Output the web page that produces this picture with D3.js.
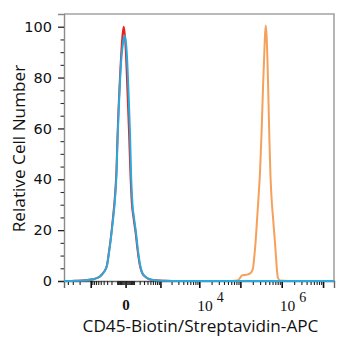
<!DOCTYPE html>
<html>
<head>
<meta charset="utf-8">
<script src="https://cdn.jsdelivr.net/npm/d3@7"></script>
<style>
  body { margin: 0; background: #fff; }
  svg { display: block; }
</style>
</head>
<body>
<svg id="chart" width="347" height="350"></svg>
<script>
// Unstained / isotype control (red)
const redIntensity = [-5000, -2480, -1350, -800, -530, -390, -305, -255, -210, -170, -135, -110, -95, -80, -60, -43, -30, -18, -8, 4, 18, 35, 50, 70, 92, 125, 160, 200, 245, 320, 440, 700, 1340, 3300, 18400000];
const redCount     = [0, 0.1, 0.3, 0.8, 1.8, 3.6, 6.2, 11.5, 17.5, 25, 33.5, 44, 57, 68, 81, 91, 97, 100, 97, 89, 75, 59, 44, 30.5, 25, 19, 12, 6.5, 3.5, 1.8, 0.8, 0.3, 0.1, 0, 0];

// Secondary-only control (blue)
const blueIntensity = [-5000, -2480, -1350, -800, -530, -390, -305, -255, -210, -170, -135, -110, -95, -80, -60, -43, -26, -12, 0, 14, 30, 47, 59, 79, 100, 132, 167, 207, 250, 330, 450, 700, 1340, 3300, 18400000];
const blueCount     = [0, 0.1, 0.3, 0.8, 1.8, 3.5, 6, 11, 17, 24, 32, 42, 55, 66, 79, 88, 93.5, 96.5, 95, 88, 74, 58, 43, 30, 25, 19, 12, 6.5, 3.5, 1.8, 0.8, 0.3, 0.1, 0, 0];

// CD45-Biotin / Streptavidin-APC stained (orange)
const orangeIntensity = [56000, 87700, 98000, 109500, 129500, 153000, 181000, 202000, 214000, 232500, 253000, 275000, 299000, 325000, 353000, 384000, 408000, 429000, 454000, 480000, 507000, 536000, 582000, 616000, 651000, 688000, 728000, 770000, 813000, 909000, 1590000];
const orangeCount     = [0, 0.3, 1.2, 2.2, 2.4, 2.6, 3.3, 5, 8.5, 15, 24, 33, 43, 58, 76, 92, 100.5, 97, 86, 70, 54, 41, 30, 25, 20, 15, 9.5, 4, 1.2, 0.2, 0];

// Axis ticks
const yMajorTicks = [0, 20, 40, 60, 80, 100];
const yMinorTicks = [5, 10, 15, 25, 30, 35, 45, 50, 55, 65, 70, 75, 85, 90, 95];
const xMajorTicks = [-1000, 0, 1000, 10000, 100000, 1000000, 10000000];
const xTickLabels = [
  { value: 0, base: "0", exp: "" },
  { value: 10000, base: "10", exp: "4" },
  { value: 1000000, base: "10", exp: "6" }
];
const xAxisTitle = "CD45-Biotin/Streptavidin-APC";
const yAxisTitle = "Relative Cell Number";

// minor ticks: linear steps near zero, 2..9 multiples in each decade
const xMinorTicks = [];
[10, 100].forEach(step => {
  for (let m = 1; m <= 9; m++) { xMinorTicks.push(m * step, -m * step); }
});
for (let m = 2; m <= 4; m++) { xMinorTicks.push(-m * 1000); }
[1000, 10000, 100000, 1000000].forEach(dec => {
  for (let m = 2; m <= 9; m++) { xMinorTicks.push(m * dec); }
});

const plotLeft = 64, plotRight = 334, plotTop = 14, plotBottom = 281;

const x = d3.scaleSymlog().constant(167.5).domain([-5000, 18400000]).range([plotLeft, plotRight]);
const y = d3.scaleLinear().domain([0, 105]).range([plotBottom, plotTop]);

const svg = d3.select("#chart");
svg.append("rect").attr("width", 347).attr("height", 350).attr("fill", "#fff");

// frame (top and right)
svg.append("path")
  .attr("d", `M${plotLeft},${plotTop}H${plotRight}V${plotBottom}`)
  .attr("fill", "none").attr("stroke", "#a3a3a3").attr("stroke-width", 1.6);

// y axis
const yAxisMajor = d3.axisLeft(y).tickValues(yMajorTicks).tickSize(6).tickPadding(6).tickFormat(d3.format("d"));
const gy = svg.append("g").attr("transform", `translate(${plotLeft},0)`).call(yAxisMajor);
gy.select(".domain").attr("stroke", "#8a8a8a").attr("stroke-width", 1.4);
gy.selectAll(".tick line").attr("stroke", "#222").attr("stroke-width", 1.3);
gy.selectAll(".tick text").attr("font-family", "DejaVu Sans, sans-serif").attr("font-size", 14.5).attr("fill", "#111");

const yAxisMinor = d3.axisLeft(y).tickValues(yMinorTicks).tickSize(3.5).tickFormat("");
const gyMinor = svg.append("g").attr("transform", `translate(${plotLeft},0)`).call(yAxisMinor);
gyMinor.select(".domain").remove();
gyMinor.selectAll(".tick line").attr("stroke", "#333").attr("stroke-width", 1.1);

// x axis
const xAxisMajor = d3.axisBottom(x).tickValues(xMajorTicks).tickSize(7).tickFormat("");
const gx = svg.append("g").attr("transform", `translate(0,${plotBottom})`).call(xAxisMajor);
gx.select(".domain").attr("stroke", "#666").attr("stroke-width", 1.4);
gx.selectAll(".tick line").attr("stroke", "#111").attr("stroke-width", 1.6);

const xAxisMinor = d3.axisBottom(x).tickValues(xMinorTicks).tickSize(4).tickFormat("");
const gxMinor = svg.append("g").attr("transform", `translate(0,${plotBottom})`).call(xAxisMinor);
gxMinor.select(".domain").remove();
gxMinor.selectAll(".tick line").attr("stroke", "#222").attr("stroke-width", 1.1);

// x tick labels with superscript exponents
const labels = svg.append("g")
  .attr("font-family", "Liberation Serif, Times New Roman, serif")
  .attr("fill", "#111");
xTickLabels.forEach(t => {
  if (!t.exp) {
    labels.append("text").attr("x", x(t.value) + 0.5).attr("y", 310)
      .attr("text-anchor", "middle").attr("font-size", 15).attr("font-weight", "bold").text(t.base);
  } else {
    const txt = labels.append("text").attr("x", x(t.value) - 2).attr("y", 311).attr("font-size", 15.5);
    txt.append("tspan").text(t.base);
    txt.append("tspan").attr("dx", 4).attr("dy", -9).attr("font-size", 14).text(t.exp);
  }
});

// histogram curves
const line = d3.line().x(d => x(d[0])).y(d => y(d[1])).curve(d3.curveMonotoneX);
const series = [
  { xs: redIntensity, ys: redCount, color: "#e8231c" },
  { xs: orangeIntensity, ys: orangeCount, color: "#f5a15c" },
  { xs: blueIntensity, ys: blueCount, color: "#29a9de" }
];
series.forEach(s => {
  svg.append("path")
    .datum(d3.zip(s.xs, s.ys))
    .attr("fill", "none")
    .attr("stroke", s.color)
    .attr("stroke-width", 2)
    .attr("stroke-linejoin", "round")
    .attr("d", line);
});

// axis titles
svg.append("text")
  .attr("x", (83 + 318) / 2).attr("y", 332)
  .attr("text-anchor", "middle")
  .attr("font-family", "Open Sans, sans-serif").attr("font-size", 17.2).attr("fill", "#111")
  .text(xAxisTitle);

svg.append("text")
  .attr("transform", `translate(25,${(60 + 237) / 2}) rotate(-90)`)
  .attr("text-anchor", "middle")
  .attr("font-family", "Open Sans, sans-serif").attr("font-size", 17.2).attr("fill", "#111")
  .text(yAxisTitle);
</script>
</body>
</html>
